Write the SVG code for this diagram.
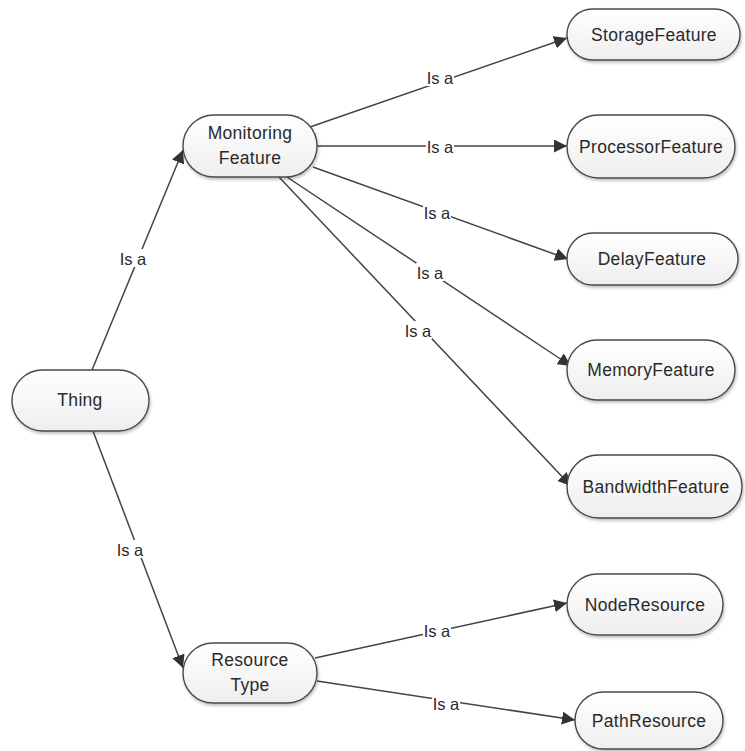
<svg xmlns="http://www.w3.org/2000/svg" width="745" height="751" viewBox="0 0 745 751">
  <style>
    .node rect { fill: url(#nodeFill); stroke: #4a4a4a; stroke-width: 1.4; filter: url(#shadow); }
    .node text { font-family: "Liberation Sans", Arial, sans-serif; font-size: 17.5px; letter-spacing: 0.3px; fill: #2a2a2a; text-anchor: middle; }
    .edge line { stroke: #444; stroke-width: 1.5; marker-end: url(#arrow); }
    .lbl rect { fill: #fff; }
    .lbl text { font-family: "Liberation Sans", Arial, sans-serif; font-size: 16.5px; fill: #2a2a2a; text-anchor: middle; }
  </style>
  <defs>
    <linearGradient id="nodeFill" x1="0" y1="0" x2="0" y2="1">
      <stop offset="0" stop-color="#ffffff"/>
      <stop offset="1" stop-color="#eeeeee"/>
    </linearGradient>
    <filter id="shadow" x="-10%" y="-10%" width="120%" height="130%">
      <feDropShadow dx="1" dy="2" stdDeviation="1.5" flood-color="#000" flood-opacity="0.25"/>
    </filter>
    <marker id="arrow" viewBox="0 0 10 10" refX="10" refY="5" markerWidth="13" markerHeight="13" markerUnits="userSpaceOnUse" orient="auto">
      <path d="M0,0 L10,5 L0,10 Z" fill="#333"/>
    </marker>
  </defs>
  <rect width="745" height="751" fill="#fff"/>

  <!-- connectors -->
  <g id="connectors" class="edge">
    <line x1="92" y1="370" x2="183" y2="150"/>
    <line x1="93" y1="431" x2="183" y2="668"/>
    <line x1="310" y1="127" x2="567" y2="38"/>
    <line x1="317" y1="146" x2="567" y2="146"/>
    <line x1="313" y1="167" x2="568" y2="259"/>
    <line x1="287" y1="177" x2="571" y2="366"/>
    <line x1="279" y1="177" x2="571" y2="486"/>
    <line x1="315" y1="658" x2="567" y2="603"/>
    <line x1="317" y1="681" x2="575" y2="720"/>
  </g>

  <!-- connector labels -->
  <g id="labels" class="lbl">
    <rect x="119" y="249" width="28" height="18"/><text x="133" y="265">Is a</text>
    <rect x="116" y="540" width="28" height="18"/><text x="130" y="556">Is a</text>
    <rect x="426" y="68" width="28" height="18"/><text x="440" y="84">Is a</text>
    <rect x="426" y="137" width="28" height="18"/><text x="440" y="153">Is a</text>
    <rect x="423" y="203" width="28" height="18"/><text x="437" y="219">Is a</text>
    <rect x="416" y="263" width="28" height="18"/><text x="430" y="279">Is a</text>
    <rect x="404" y="321" width="28" height="18"/><text x="418" y="337">Is a</text>
    <rect x="423" y="621" width="28" height="18"/><text x="437" y="637">Is a</text>
    <rect x="432" y="694" width="28" height="18"/><text x="446" y="710">Is a</text>
  </g>

  <g id="thing" class="node">
    <rect x="12" y="370" width="137" height="61" rx="30.5"/>
    <text x="80" y="406">Thing</text>
  </g>
  <g id="monitoring-feature" class="node">
    <rect x="183" y="115" width="134" height="62" rx="31"/>
    <text x="250" y="139">Monitoring</text>
    <text x="250" y="164">Feature</text>
  </g>
  <g id="resource-type" class="node">
    <rect x="183" y="643" width="134" height="60" rx="30"/>
    <text x="250" y="666">Resource</text>
    <text x="250" y="691">Type</text>
  </g>
  <g id="storage-feature" class="node">
    <rect x="567" y="9" width="173" height="51" rx="25.5"/>
    <text x="654" y="41">StorageFeature</text>
  </g>
  <g id="processor-feature" class="node">
    <rect x="567" y="115" width="168" height="63" rx="31.5"/>
    <text x="651" y="153">ProcessorFeature</text>
  </g>
  <g id="delay-feature" class="node">
    <rect x="567" y="233" width="171" height="52" rx="26"/>
    <text x="652" y="265">DelayFeature</text>
  </g>
  <g id="memory-feature" class="node">
    <rect x="567" y="340" width="168" height="60" rx="30"/>
    <text x="651" y="376">MemoryFeature</text>
  </g>
  <g id="bandwidth-feature" class="node">
    <rect x="567" y="455" width="175" height="63" rx="31.5"/>
    <text x="656" y="493">BandwidthFeature</text>
  </g>
  <g id="node-resource" class="node">
    <rect x="567" y="574" width="156" height="61" rx="30.5"/>
    <text x="645" y="611">NodeResource</text>
  </g>
  <g id="path-resource" class="node">
    <rect x="575" y="692" width="148" height="57" rx="28.5"/>
    <text x="649" y="727">PathResource</text>
  </g>
</svg>
